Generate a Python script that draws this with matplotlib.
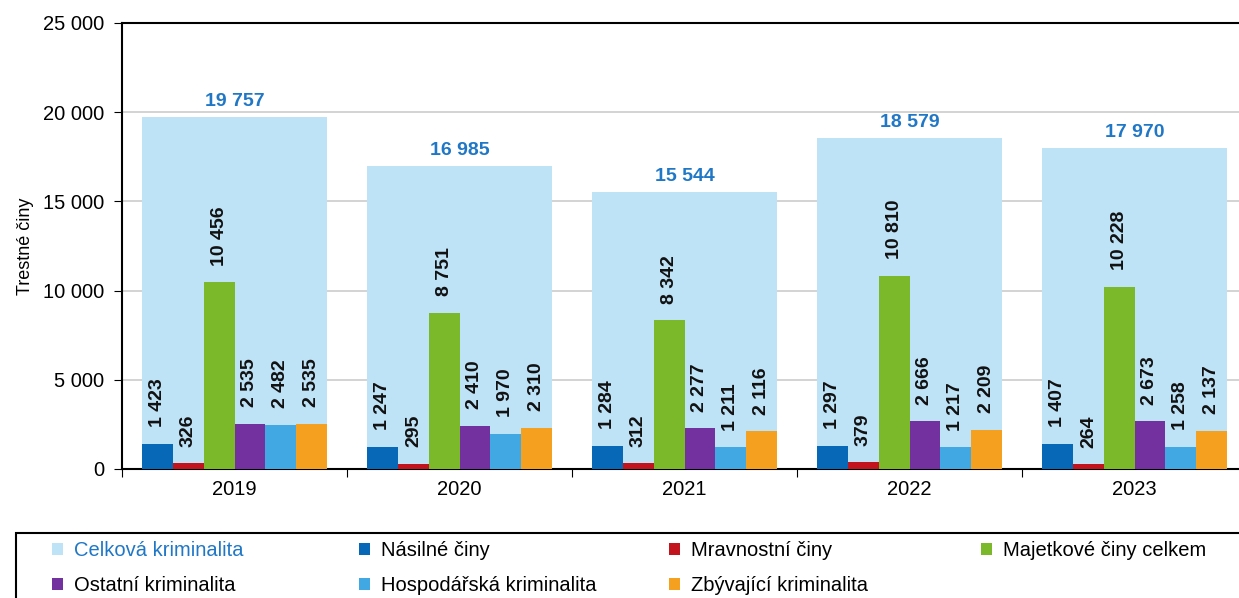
import matplotlib.pyplot as plt
import matplotlib.patches as mpatches
import numpy as np

plt.rcParams['font.family'] = ['Liberation Sans', 'DejaVu Sans']

roky = ["2019", "2020", "2021", "2022", "2023"]
celkem = [19757, 16985, 15544, 18579, 17970]
nasilne = [1423, 1247, 1284, 1297, 1407]
mravnostni = [326, 295, 312, 379, 264]
majetkove = [10456, 8751, 8342, 10810, 10228]
ostatni = [2535, 2410, 2277, 2666, 2673]
hospodarska = [2482, 1970, 1211, 1217, 1258]
zbyvajici = [2535, 2310, 2116, 2209, 2137]

serie = [
    ("Násilné činy", nasilne, "#0868B8"),
    ("Mravnostní činy", mravnostni, "#C3141E"),
    ("Majetkové činy celkem", majetkove, "#7BB82A"),
    ("Ostatní kriminalita", ostatni, "#7331A0"),
    ("Hospodářská kriminalita", hospodarska, "#42A8E4"),
    ("Zbývající kriminalita", zbyvajici, "#F5A01E"),
]

def fmt(v):
    return f"{v:,}".replace(",", " ")

W, H = 1239, 598
fig = plt.figure(figsize=(W/100, H/100), dpi=100)
ax = fig.add_axes([122/W, 1-469/H, 1125/W, 446/H])

x = np.arange(len(roky)) + 0.5
big_w = 0.82
small_w = big_w / 6

h_cel = ax.bar(x, celkem, width=big_w, color="#BEE2F6", zorder=2, label="Celková kriminalita")
for xi, v in zip(x, celkem):
    ax.annotate(fmt(v), (xi, v), xytext=(0, 5), textcoords="offset points",
                ha="center", va="bottom", fontsize=14, fontweight="bold", color="#1F77C6")

handles = {}
for i, (name, vals, col) in enumerate(serie):
    pos = x - big_w/2 + small_w*(i + 0.5)
    handles[name] = ax.bar(pos, vals, width=small_w, color=col, zorder=3, label=name)
    for xi, v in zip(pos, vals):
        ax.annotate(fmt(v), (xi, v), xytext=(0, 12), textcoords="offset points",
                    ha="center", va="bottom", rotation=90, fontsize=14,
                    fontweight="bold", color="#111111")

ax.set_xlim(0, 5)
ax.set_ylim(0, 25000)
ax.set_yticks(np.arange(0, 25001, 5000))
ax.set_yticklabels([fmt(v) for v in range(0, 25001, 5000)], fontsize=14.5)
ax.set_xticks(np.arange(0, 6))
ax.set_xticklabels([])
ax.set_xticks(x, minor=True)
ax.set_xticklabels(roky, minor=True, fontsize=14.5)
ax.tick_params(axis="x", which="minor", length=0, pad=8)
ax.tick_params(axis="x", which="major", length=6, direction="out", color="black")
ax.tick_params(axis="y", length=6, color="black", pad=7)
ax.grid(axis="y", color="#CCCCCC", linewidth=1.2, zorder=0)
ax.set_axisbelow(True)
for s in ["left", "bottom", "top"]:
    ax.spines[s].set_color("black")
    ax.spines[s].set_linewidth(1.5)
ax.spines["right"].set_visible(False)
ax.set_ylabel("Trestné činy", fontsize=13, labelpad=6)

# legenda: 4 sloupce, rámeček presahuje okraj obrázku
ramecek = mpatches.Rectangle((16/W, -0.1), 1.1, (H-533)/H + 0.1, transform=fig.transFigure,
                             fill=False, edgecolor="black", linewidth=1.5)
fig.add_artist(ramecek)

sloupce = [
    [h_cel, handles["Ostatní kriminalita"]],
    [handles["Násilné činy"], handles["Hospodářská kriminalita"]],
    [handles["Mravnostní činy"], handles["Zbývající kriminalita"]],
    [handles["Majetkové činy celkem"]],
]
x_leg = [52, 359, 669, 981]
for j, (hs, xl) in enumerate(zip(sloupce, x_leg)):
    leg = fig.legend(handles=hs, labels=[h.get_label() for h in hs],
                     loc="upper left", bbox_to_anchor=(xl/W, 1-541/H),
                     fontsize=14.5, frameon=False, handlelength=0.55, handleheight=0.55,
                     handletextpad=0.55, borderpad=0, labelspacing=0.8, borderaxespad=0)
    if j == 0:
        leg.get_texts()[0].set_color("#1F77C6")

fig.savefig("out.png", dpi=100)
